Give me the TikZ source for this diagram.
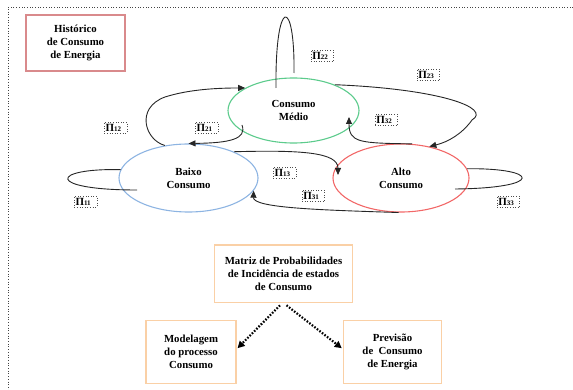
\documentclass[tikz,border=0pt]{standalone}
\usepackage{fontspec}
\setmainfont{Liberation Serif}
\usetikzlibrary{shapes.geometric,arrows.meta,calc}

\definecolor{histred}{HTML}{D98A8C}
\definecolor{medgreen}{HTML}{5CCB8C}
\definecolor{lowblue}{HTML}{8DB4E2}
\definecolor{highred}{HTML}{F26868}
\definecolor{peach}{HTML}{FAD0A6}
\definecolor{framegray}{HTML}{444444}

% transition probability tag: bold Pi with small indices
\newcommand\pitag[1]{{\fontsize{11}{11}\selectfont\bfseries Π}{\fontsize{7}{8}\selectfont\bfseries #1}}

\begin{document}
\begin{tikzpicture}[x=1pt,y=-1pt,
  txt/.style={font=\fontsize{10.8}{13}\selectfont\bfseries, align=center},
  state/.style={ellipse, draw, line width=1.1pt, inner sep=0pt, txt},
  plainbox/.style={rectangle, draw, line width=1.1pt, inner sep=0pt, txt},
  conn/.style={draw=black!85, line width=0.9pt},
  arr/.style={conn, -{Triangle[length=7pt,width=6pt]}},
  prob/.style={draw=black!70, dotted, line width=0.6pt, minimum width=22.5pt,
    minimum height=11pt, inner sep=0pt, inner xsep=1.2pt, text width=20pt,
    anchor=north west},
  flow/.style={draw=black, line width=2.2pt, dash pattern=on 1.6pt off 1.6pt,
    -{Triangle[length=7pt,width=7pt]}}
]
\useasboundingbox (0,0) rectangle (573,390);

% dotted page frame
\draw[framegray, dotted, line width=0.7pt] (573,7) -- (8,7) -- (8,390);

% source box
\node[plainbox, draw=histred, minimum width=99pt, minimum height=56pt] (hist)
  at (75.5,43) {Histórico\\de Consumo\\de Energia};

% consumption states
\node[state, draw=medgreen, minimum width=131pt, minimum height=65pt] (med)
  at (293.5,110.5) {Consumo\\Médio};
\node[state, draw=lowblue, minimum width=139pt, minimum height=68pt] (baixo)
  at (188.5,178) {Baixo\\Consumo};
\node[state, draw=highred, minimum width=136pt, minimum height=68pt] (alto)
  at (401,178) {Alto\\Consumo};

% free ends of the transitions
\coordinate (m22a) at ($(med.center)+(-17.5,-22.5)$);
\coordinate (m22b) at ($(med.center)+(0.5,-37.5)$);
\coordinate (m32)  at ($(med.center)+(55.5,6.5)$);
\coordinate (m21)  at ($(med.center)+(-51.5,14.5)$);
\coordinate (b11)  at ($(baixo.center)+(-51.5,12)$);
\coordinate (a13)  at ($(alto.center)+(-63,-3)$);
\coordinate (a33)  at ($(alto.center)+(54,11)$);

% transitions
\draw[conn] (m22a) .. controls (275,-4) and (295,-4) .. (m22b);
\draw[arr] (med.32) .. controls (440,89) and (492,108) .. (472,120)
  .. controls (462,134) and (448,142) .. (alto.48);
\draw[arr] (alto.72) .. controls (360,143) and (349,143) .. (m32);
\draw[arr] (baixo.126) .. controls (145,140) and (135,108) .. (165,97)
  .. controls (190,89) and (220,88) .. (med.155);
\draw[arr] (m21) .. controls (247,139) and (230,143) .. (baixo.north);
\draw[conn] (baixo.173) .. controls (50,168) and (45,190) .. (b11);
\draw[arr] (baixo.30) .. controls (300,150) and (338,152) .. (a13);
\draw[arr] (alto.266) .. controls (320,210) and (253,208) .. (baixo.349);
\draw[conn] (alto.8) .. controls (540,168) and (545,188) .. (a33);

% probability tags
\node[prob] (p22) at (310.7,50)    {\pitag{22}};
\node[prob] (p23) at (416.7,69)    {\pitag{23}};
\node[prob] (p32) at (374.7,114.3) {\pitag{32}};
\node[prob] (p12) at (104,121.7)   {\pitag{12}};
\node[prob] (p21) at (195,121.7)   {\pitag{21}};
\node[prob] (p11) at (74,195.7)    {\pitag{11}};
\node[prob] (p13) at (273,166.7)   {\pitag{13}};
\node[prob] (p31) at (301.7,190)   {\pitag{31}};
\node[prob] (p33) at (496.7,196)   {\pitag{33}};

% lower flow
\node[plainbox, draw=peach, minimum width=138.4pt, minimum height=57.7pt] (matriz)
  at (283.5,273.9) {Matriz de Probabilidades\\de Incidência de estados\\de Consumo};
\node[plainbox, draw=peach, minimum width=90pt, minimum height=63.3pt] (model)
  at (191,351.7) {Modelagem\\do processo\\Consumo};
\node[plainbox, draw=peach, minimum width=98.4pt, minimum height=63.3pt] (prev)
  at (392.5,351.7) {Previsão\\de~ Consumo\\de Energia};

\draw[flow] ($(matriz.south)+(-3.5,2)$) -- ($(model.east)+(1,-3.5)$);
\draw[flow] ($(matriz.south)+(3,2)$) -- ($(prev.west)+(-1,-3.5)$);
\end{tikzpicture}
\end{document}
